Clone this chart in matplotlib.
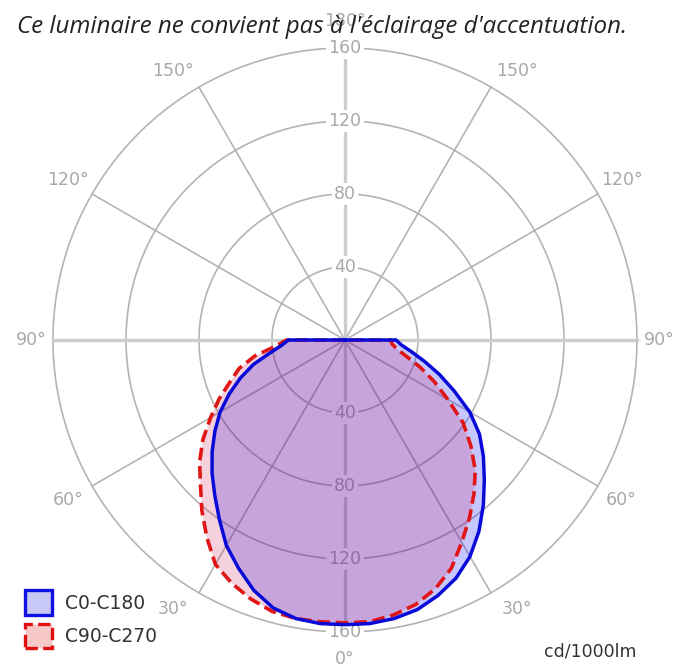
import numpy as np
import matplotlib.pyplot as plt
from matplotlib.patches import Patch

# gamma angles (deg from nadir) and intensities in cd/1000lm
gamma = np.array([0, 5, 10, 15, 20, 25, 30, 35, 40, 45, 50, 55, 60, 65, 70, 75, 80, 85, 90])
c0 = np.array([156, 156, 155, 153, 149, 144, 137, 128, 118, 108, 99, 90, 79, 66, 55, 45, 37, 31, 28])
c180 = np.array([156, 156, 155, 152, 146, 138, 130, 120, 111, 103, 95, 87, 79, 70, 61, 52, 42, 35, 31])
c90 = np.array([155, 155, 153, 150, 145, 138, 128, 119, 110, 101, 90, 79, 65, 54, 44, 35, 29, 26, 25])
c270 = np.array([155, 155, 155, 154, 151, 147, 142, 132, 122, 112, 104, 95, 85, 76, 67, 60, 50, 38, 32])

rings = [40, 80, 120, 160]
deg_labels = [0, 30, 60, 90, 120, 150, 180]
title = "Ce luminaire ne convient pas à l'éclairage d'accentuation."


def outline(left, right):
    # left half drawn with negative theta, right half positive, closed at the centre
    th = np.deg2rad(np.concatenate([[-90], -gamma[::-1], gamma, [90]]))
    r = np.concatenate([[0], left[::-1], right, [0]])
    return th, r


fig = plt.figure(figsize=(6.8, 6.68), dpi=100)
ax = fig.add_axes([0.0779, 0.0539, 0.8588, 0.8743], projection='polar')
ax.set_theta_zero_location('S')
ax.set_ylim(0, 160)
ax.axis('off')

# grid
full = np.linspace(0, 2 * np.pi, 721)
for r in rings:
    ax.plot(full, np.full_like(full, r), color='#b4b4b4', lw=1.2, zorder=1, clip_on=False)
for a in range(0, 360, 30):
    t = np.deg2rad(a)
    if a % 90 == 0:
        ax.plot([t, t], [0, 160], color='#cccccc', lw=2.4, zorder=1, clip_on=False)
    else:
        ax.plot([t, t], [0, 160], color='#b4b4b4', lw=1.2, zorder=1, clip_on=False)

# radial value labels on the vertical axis
for r in rings:
    for t in (0, np.pi):
        ax.text(t, r, str(r), ha='center', va='center', fontsize=12.5, color='#a8a8a8',
                bbox=dict(facecolor='white', edgecolor='none', pad=1.5), zorder=2)

# angle labels
for a in deg_labels:
    shift = 2.5 if a in (30, 150) else 0
    rr = 172 if a == 90 else 175
    for side in (1, -1):
        aa = a + shift if a < 90 else a - shift
        ax.text(np.deg2rad(side * aa), rr, f'{a}°', ha='center', va='center',
                fontsize=12.5, color='#a8a8a8', zorder=2)
        if a in (0, 180):
            break

# curves
th_b, r_b = outline(c180, c0)
th_r, r_r = outline(c270, c90)
ax.fill(th_b, r_b, color='#0000ff', alpha=0.22, lw=0, zorder=3)
ax.fill(th_r, r_r, color='#cc1d50', alpha=0.2, lw=0, zorder=3)
ax.plot(th_r, r_r, color='#e01515', lw=2.6, linestyle=(0, (3.5, 1.6)), zorder=4)
ax.plot(th_b, r_b, color='#0a0ad8', lw=2.5, zorder=5)

fig.text(0.474, 0.96, title, ha='center', va='center', fontsize=17.4,
         fontstyle='italic', family='Open Sans', color='#222222', zorder=10)
fig.text(590 / 680, 1 - 651 / 668, 'cd/1000lm', ha='center', va='center',
         fontsize=12.5, color='#333333')

handles = [Patch(facecolor='#c8c8f6', edgecolor='#1010e0', lw=2.4, label='C0-C180'),
           Patch(facecolor='#f6c8c8', edgecolor='#e01010', lw=2.4, linestyle='--', label='C90-C270')]
fig.legend(handles=handles, loc='lower left', bbox_to_anchor=(25 / 680, 20 / 668),
           frameon=False, fontsize=13.5, handlelength=1.45, handleheight=1.6,
           handletextpad=0.7, labelspacing=0.5, borderpad=0, borderaxespad=0,
           labelcolor='#333333')

fig.savefig('out.png', dpi=100)
